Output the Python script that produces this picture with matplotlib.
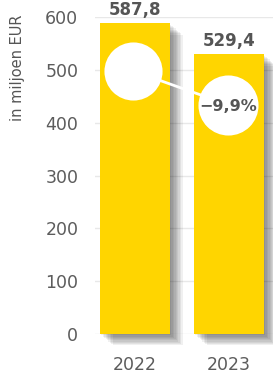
import matplotlib.pyplot as plt
import matplotlib.patheffects as pe

years = ['2022', '2023']
values = [587.8, 529.4]
value_labels = ['587,8', '529,4']
change_label = '−9,9%'
yticks = [0, 100, 200, 300, 400, 500, 600]

yellow = '#FFD500'
text_grey = '#555555'

plt.rcParams['font.family'] = ['DejaVu Sans']

fig = plt.figure(figsize=(2.73, 3.75), dpi=100)
ax = fig.add_axes([95 / 273, 1 - 334 / 375, 178 / 273, 317 / 375])

# soft shadow made of stacked offset copies
shadow = []
for k in range(1, 10):
    shadow.append(pe.SimplePatchShadow(offset=(k * 1.0, -k * 0.9),
                                       shadow_rgbFace='#000000', alpha=0.06))
shadow.append(pe.Normal())

x = list(range(len(years)))
bars = ax.bar(x, values, width=0.745, color=yellow, zorder=3, clip_on=False)
for b in bars:
    b.set_path_effects(shadow)

for xi, v, lab in zip(x, values, value_labels):
    ax.annotate(lab, (xi, v), xytext=(0, 3), textcoords='offset points',
                ha='center', va='bottom', fontsize=12, fontweight='bold',
                color=text_grey, zorder=6, annotation_clip=False)

# change bubbles
c1 = (-0.02, 498)
c2 = (0.99, 434)
ax.plot([c1[0], c2[0]], [c1[1], c2[1]], color='white', lw=2, zorder=4)
ax.scatter([c1[0]], [c1[1]], s=1750, color='white', zorder=5, linewidths=0)
ax.scatter([c2[0]], [c2[1]], s=1870, color='white', zorder=5, linewidths=0)
ax.text(c2[0], c2[1] - 4, change_label, ha='center', va='center', fontsize=11.5,
        fontweight='bold', color=text_grey, zorder=6)

ax.set_xlim(-0.426, 1.468)
ax.set_ylim(0, 600)
ax.set_yticks(yticks)
ax.set_yticklabels([str(t) for t in yticks])
ax.set_xticks(x)
ax.set_xticklabels(years)
ax.tick_params(axis='y', length=0, pad=12, labelsize=12.5, labelcolor='#5c5c5c')
ax.tick_params(axis='x', length=0, pad=16, labelsize=12.5, labelcolor='#5c5c5c')
ax.grid(axis='y', color='#e8e8e8', lw=1, zorder=0)
ax.set_axisbelow(True)
for s in ax.spines.values():
    s.set_visible(False)

fig.text(18 / 273, 1 - 68 / 375, 'in miljoen EUR', rotation=90, ha='center',
         va='center', fontsize=10.5, color=text_grey)

fig.savefig('out.png', dpi=100)
